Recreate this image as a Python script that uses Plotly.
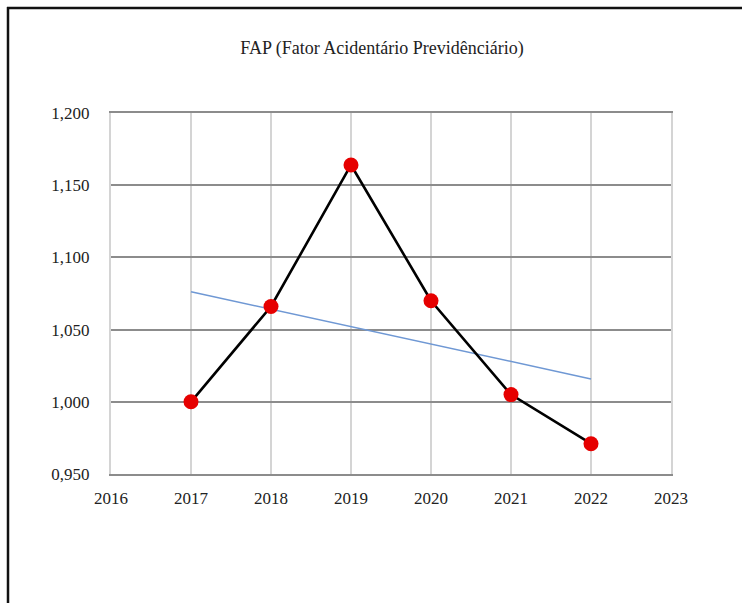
import numpy as np
import plotly.graph_objects as go

# FAP values per year
years = [2017, 2018, 2019, 2020, 2021, 2022]
fap = [1.000, 1.066, 1.164, 1.070, 1.005, 0.971]

x_ticks = [2016, 2017, 2018, 2019, 2020, 2021, 2022, 2023]
y_ticks = [0.950, 1.000, 1.050, 1.100, 1.150, 1.200]

title_text = "FAP (Fator Acidentário Previdênciário)"

# Linear trend fitted to the yearly values
slope, intercept = np.polyfit(years, fap, 1)
trend = [slope * x + intercept for x in years]

FONT = "Liberation Serif"
TEXT = "#222222"

fig = go.Figure()

fig.add_trace(go.Scatter(
    x=years, y=trend, mode="lines",
    line=dict(color="#6f98d4", width=1.5),
    hoverinfo="skip", showlegend=False,
))

fig.add_trace(go.Scatter(
    x=years, y=fap, mode="lines+markers",
    line=dict(color="#000000", width=2.6),
    marker=dict(color="#e60000", size=15, line=dict(width=0)),
    showlegend=False,
))

W, H = 742, 603
L, R, T, B = 111, 71, 113, 129
pw, ph = W - L - R, H - T - B


def px_x(px):
    return (px - L) / pw


def px_y(py):
    return (H - B - py) / ph


fig.update_layout(
    width=W, height=H,
    margin=dict(l=L, r=R, t=T, b=B),
    paper_bgcolor="white", plot_bgcolor="white",
    separators=",.",
    font=dict(family=FONT, size=17, color=TEXT),
    title=dict(
        text=title_text, x=382 / W, xref="container", xanchor="center",
        y=1 - 48 / H, yref="container", yanchor="middle",
        font=dict(family=FONT, size=18, color=TEXT),
    ),
    xaxis=dict(
        range=[2016, 2023], tickvals=x_ticks, ticktext=[str(v) for v in x_ticks],
        showgrid=True, gridcolor="#d4d4d4", gridwidth=2,
        showline=True, linecolor="#8c8c8c", linewidth=2, mirror=True,
        zeroline=False, ticks="", ticklabelstandoff=8,
        tickfont=dict(family=FONT, size=17, color=TEXT),
        fixedrange=True,
    ),
    yaxis=dict(
        range=[0.950, 1.200], tickvals=y_ticks, tickformat=".3f",
        showgrid=True, gridcolor="#8c8c8c", gridwidth=2,
        showline=True, linecolor="#d4d4d4", linewidth=2, mirror=True,
        zeroline=False, ticks="", ticklabelstandoff=16,
        tickfont=dict(family=FONT, size=17, color=TEXT),
        fixedrange=True,
    ),
    shapes=[
        # page frame: left and top edges
        dict(type="line", xref="paper", yref="paper",
             x0=px_x(8), x1=px_x(8), y0=px_y(7), y1=px_y(620),
             line=dict(color="#111111", width=2.5)),
        dict(type="line", xref="paper", yref="paper",
             x0=px_x(7), x1=px_x(760), y0=px_y(8), y1=px_y(8),
             line=dict(color="#111111", width=2.5)),
    ],
)

fig.write_html("out.html")
